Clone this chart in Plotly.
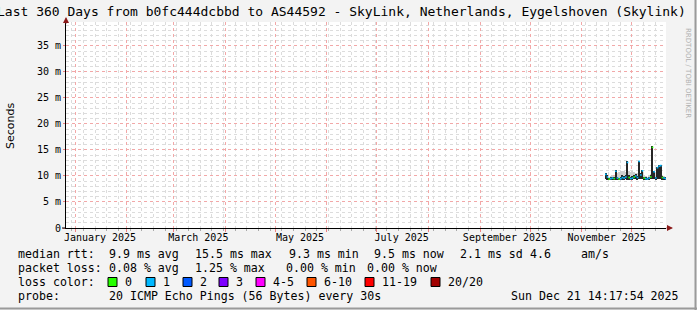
import plotly.graph_objects as go
from datetime import datetime, timedelta

# ---------------- data ----------------
title_text = "Last 360 Days from b0fc444dcbbd to AS44592 - SkyLink, Netherlands, Eygelshoven (Skylink)"
range_start = datetime(2024, 12, 26, 14, 17, 54)
range_end = datetime(2025, 12, 21, 14, 17, 54)

first_day = datetime(2025, 11, 15)
median_ms = [10.3, 9.8, 9.4, 9.5, 9.6, 9.5, 10.9, 9.6, 9.4, 9.5, 9.7, 9.6, 9.8,
             12.6, 9.7, 9.5, 9.6, 9.8, 10.0, 9.7, 12.8, 10.2, 11.0, 9.6, 9.5, 9.4,
             9.6, 9.8, 15.5, 10.8, 9.6, 11.6, 11.9, 12.0, 9.7, 9.6, 9.5]
smoke_lo = [9.4, 9.3, 9.2, 9.2, 9.3, 9.2, 9.3, 9.3, 9.2, 9.2, 9.3, 9.3, 9.4,
            9.3, 9.3, 9.2, 9.3, 9.4, 9.4, 9.3, 9.4, 9.4, 9.4, 9.3, 9.2, 9.2,
            9.3, 9.4, 9.4, 9.4, 9.3, 9.4, 9.4, 9.4, 9.3, 9.3, 9.2]
smoke_hi = [10.6, 10.1, 9.7, 9.8, 9.9, 9.8, 11.1, 9.9, 9.7, 9.9, 10.1, 10.0, 10.2,
            12.8, 10.1, 9.8, 10.0, 10.2, 10.4, 10.0, 12.9, 10.5, 11.2, 9.9, 9.8, 9.7,
            9.9, 10.2, 15.7, 11.0, 9.9, 11.8, 12.1, 12.2, 10.0, 9.9, 9.8]
light_hi = [10.6, 10.2, 9.9, 10.0, 10.1, 10.0, 10.4, 10.6, 10.8, 11.0, 10.9, 11.0, 10.8,
            10.9, 11.0, 10.7, 10.9, 10.8, 10.6, 10.5, 10.7, 10.6, 10.5, 10.2, 10.0, 9.9,
            10.1, 10.3, 10.5, 10.4, 10.1, 10.3, 10.4, 10.4, 10.1, 10.0, 9.9]
loss_cat = [1, 1, 0, 1, 1, 0, 1, 1, 0, 1, 1, 1, 1, 1, 0, 1, 1, 0, 1, 1, 1, 1, 1,
            0, 1, 1, 1, 0, 0, 1, 1, 1, 1, 1, 0, 1, 1]

loss_labels = ["0", "1", "2", "3", "4-5", "6-10", "11-19", "20/20"]
loss_colors = ["#26ff00", "#00b8ff", "#0059ff", "#7e00ff", "#ff00ff", "#ff5500", "#ff0000", "#a10000"]

y_tick_vals = [0, 5, 10, 15, 20, 25, 30, 35]
y_tick_text = ["0", "5 m", "10 m", "15 m", "20 m", "25 m", "30 m", "35 m"]
month_starts = [datetime(2025, m, 1) for m in range(1, 13)]
label_months = [datetime(2025, m, 16) for m in (1, 3, 5, 7, 9, 11)]
label_text = ["January 2025", "March 2025", "May 2025", "July 2025", "September 2025", "November 2025"]

stats_rtt = ["median rtt:", "9.9 ms avg", "15.5 ms max", "9.3 ms min", "9.5 ms now", "2.1 ms sd", "4.6", "am/s"]
stats_loss = ["packet loss:", "0.08 % avg", "1.25 % max", "0.00 % min", "0.00 % now"]
probe_text = ["probe:", "20 ICMP Echo Pings (56 Bytes) every 30s", "Sun Dec 21 14:17:54 2025"]

# ---------------- layout geometry ----------------
W, H = 697, 310
ML, MR, MT, MB = 66, 31, 22, 82
PW, PH = W - ML - MR, H - MT - MB


def px(x):
    return (x - ML) / PW


def py(y):
    return 1 - (y - MT) / PH


MONO = "DejaVu Sans Mono"
days = [first_day + timedelta(days=i) for i in range(len(median_ms))]
centers = [d + timedelta(hours=12) for d in days]
DAY_MS = 86400000

fig = go.Figure()

# light smoke
fig.add_trace(go.Bar(x=centers, base=smoke_lo, y=[h - l for h, l in zip(light_hi, smoke_lo)],
                     width=DAY_MS, marker=dict(color="#cfcfcf", line=dict(width=0)),
                     hoverinfo="skip", showlegend=False))
# dark smoke
fig.add_trace(go.Bar(x=centers, base=smoke_lo, y=[h - l for h, l in zip(smoke_hi, smoke_lo)],
                     width=DAY_MS, marker=dict(color="#262626", line=dict(width=0)),
                     hoverinfo="skip", showlegend=False))

# median line segments coloured by loss
for ci, col in enumerate(loss_colors):
    xs, ys = [], []
    for d, m, c in zip(days, median_ms, loss_cat):
        if c == ci:
            xs += [d, d + timedelta(days=1), None]
            ys += [m, m, None]
    if xs:
        fig.add_trace(go.Scatter(x=xs, y=ys, mode="lines", line=dict(color=col, width=1.6),
                                 hoverinfo="skip", showlegend=False, connectgaps=False))

# dummy trace for label axis
fig.add_trace(go.Scatter(x=[range_start], y=[None], xaxis="x2", mode="markers",
                         showlegend=False, hoverinfo="skip"))

fig.update_layout(
    width=W, height=H, autosize=False,
    margin=dict(l=ML, r=MR, t=MT, b=MB, pad=0),
    paper_bgcolor="#f3f3f3", plot_bgcolor="#ffffff",
    barmode="overlay", bargap=0,
    font=dict(family=MONO, size=10, color="#000"),
    xaxis=dict(type="date", range=[range_start, range_end], tickmode="array",
               tickvals=month_starts, ticktext=[""] * len(month_starts),
               showgrid=True, gridcolor="#f2a8a8", griddash="dot", gridwidth=1,
               ticks="outside", ticklen=3, tickcolor="#f08080",
               minor=dict(dtick=7 * DAY_MS, tick0="2024-12-30", showgrid=True,
                          gridcolor="#dcdcdc", griddash="dot", ticks="outside",
                          ticklen=2, tickcolor="#aaaaaa"),
               showline=True, linecolor="#000", linewidth=1, zeroline=False,
               fixedrange=True),
    xaxis2=dict(type="date", overlaying="x", anchor="y", side="bottom",
                range=[range_start, range_end], tickmode="array",
                tickvals=label_months, ticktext=label_text, showgrid=False,
                showline=False, ticks="", ticklabelstandoff=2,
                tickfont=dict(family=MONO, size=10, color="#000"), zeroline=False),
    yaxis=dict(range=[0, 39.6], tickmode="array", tickvals=y_tick_vals, ticktext=y_tick_text,
               showgrid=True, gridcolor="#f2a8a8", griddash="dot", gridwidth=1,
               ticks="outside", ticklen=2, tickcolor="#f08080",
               minor=dict(dtick=1, showgrid=True, gridcolor="#dcdcdc", griddash="dot",
                          ticks=""),
               showline=True, linecolor="#000", linewidth=1, zeroline=False,
               tickfont=dict(family=MONO, size=10, color="#000"), fixedrange=True),
)

ann = []
# title
ann.append(dict(text=title_text, x=px(341), y=py(11), xref="paper", yref="paper",
                xanchor="center", yanchor="middle", showarrow=False,
                font=dict(family=MONO, size=13, color="#000")))
# y title
ann.append(dict(text="Seconds", x=px(10), y=py(126), xref="paper", yref="paper",
                xanchor="center", yanchor="middle", textangle=-90, showarrow=False,
                font=dict(family="DejaVu Sans", size=11, color="#000")))
# rrdtool watermark
ann.append(dict(text="RRDTOOL / TOBI OETIKER", x=px(688), y=py(26), xref="paper", yref="paper",
                xanchor="center", yanchor="top", textangle=90, showarrow=False,
                font=dict(family="DejaVu Sans", size=7, color="#b0b0b0")))

FS = 11.6
rtt_x = [16, 107, 193, 287, 372, 458, 528, 579]
for t, x in zip(stats_rtt, rtt_x):
    ann.append(dict(text=t, x=px(x), y=py(254), xref="paper", yref="paper", xanchor="left",
                    yanchor="middle", showarrow=False, font=dict(family=MONO, size=FS)))
loss_x = [16, 107, 193, 284, 365]
for t, x in zip(stats_loss, loss_x):
    ann.append(dict(text=t, x=px(x), y=py(268), xref="paper", yref="paper", xanchor="left",
                    yanchor="middle", showarrow=False, font=dict(family=MONO, size=FS)))
ann.append(dict(text="loss color:", x=px(16), y=py(282), xref="paper", yref="paper",
                xanchor="left", yanchor="middle", showarrow=False, font=dict(family=MONO, size=FS)))
box_x = [108, 146, 183, 219, 256, 307, 365, 431]
shapes = []
for lab, col, bx in zip(loss_labels, loss_colors, box_x):
    shapes.append(dict(type="rect", xref="paper", yref="paper", x0=px(bx), x1=px(bx + 9),
                       y0=py(286.5), y1=py(277.5), fillcolor=col, line=dict(color="#000", width=1)))
    ann.append(dict(text=lab, x=px(bx + 15), y=py(282), xref="paper", yref="paper",
                    xanchor="left", yanchor="middle", showarrow=False,
                    font=dict(family=MONO, size=FS)))
ann.append(dict(text=probe_text[0], x=px(16), y=py(296), xref="paper", yref="paper",
                xanchor="left", yanchor="middle", showarrow=False, font=dict(family=MONO, size=FS)))
ann.append(dict(text=probe_text[1], x=px(107), y=py(296), xref="paper", yref="paper",
                xanchor="left", yanchor="middle", showarrow=False, font=dict(family=MONO, size=FS)))
ann.append(dict(text=probe_text[2], x=px(681), y=py(296), xref="paper", yref="paper",
                xanchor="right", yanchor="middle", showarrow=False, font=dict(family=MONO, size=FS)))

# axis arrowheads
ann.append(dict(text="", x=px(673), y=0, xref="paper", yref="paper", ax=-8, ay=0,
                showarrow=True, arrowhead=2, arrowsize=1, arrowwidth=1.2, arrowcolor="#8b1a1a"))
ann.append(dict(text="", x=0, y=py(17), xref="paper", yref="paper", ax=0, ay=8,
                showarrow=True, arrowhead=2, arrowsize=1, arrowwidth=1.2, arrowcolor="#8b1a1a"))

# image frame
shapes.append(dict(type="line", xref="paper", yref="paper", x0=px(695.5), x1=px(695.5),
                   y0=py(0), y1=py(310), line=dict(color="#9a9a9a", width=2)))
shapes.append(dict(type="line", xref="paper", yref="paper", x0=px(0), x1=px(697),
                   y0=py(308.5), y1=py(308.5), line=dict(color="#9a9a9a", width=2)))
shapes.append(dict(type="line", xref="paper", yref="paper", x0=px(62), x1=px(66),
                   y0=0, y1=0, line=dict(color="#000", width=1)))

fig.update_layout(annotations=ann, shapes=shapes)
fig.write_html("out.html")
